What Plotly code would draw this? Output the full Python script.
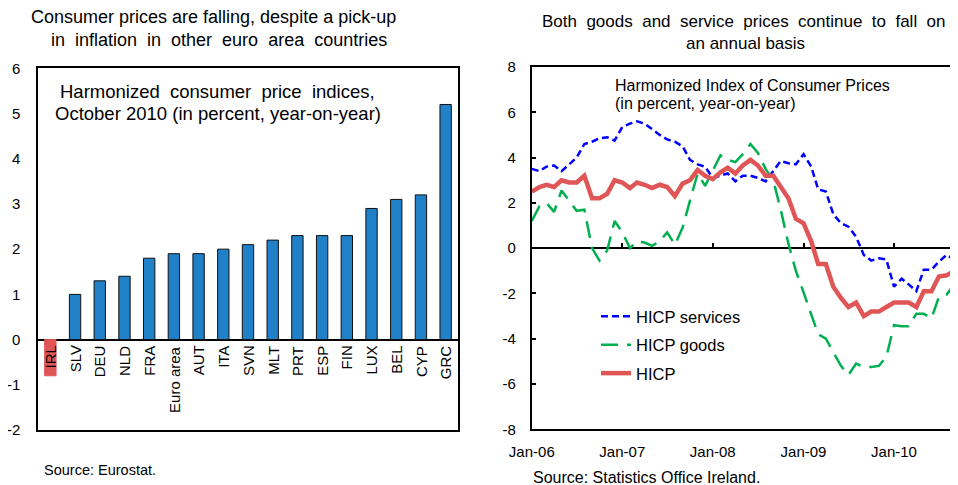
import plotly.graph_objects as go
import pandas as pd

# ---------------- Data ----------------
countries = ["IRL", "SLV", "DEU", "NLD", "FRA", "Euro area", "AUT", "ITA", "SVN",
             "MLT", "PRT", "ESP", "FIN", "LUX", "BEL", "CYP", "GRC"]
hicp_oct2010 = [-0.8, 1.0, 1.3, 1.4, 1.8, 1.9, 1.9, 2.0, 2.1,
                2.2, 2.3, 2.3, 2.3, 2.9, 3.1, 3.2, 5.2]
left_ticks = [-2, -1, 0, 1, 2, 3, 4, 5, 6]
left_tick_labels = ["-2", "-1", "0", "1", "2", "3", "4", "5", "6"]

months = pd.date_range("2006-01-01", "2010-10-01", freq="MS")
hicp_services = [3.5, 3.4, 3.6, 3.65, 3.4, 3.7, 4.0, 4.6, 4.7, 4.85, 4.9, 4.75,
                 5.35, 5.5, 5.6, 5.5, 5.25, 5.0, 4.8, 4.7, 4.5, 3.9, 3.7, 3.6,
                 3.1, 3.2, 3.3, 2.95, 3.2, 3.2, 3.1, 2.95, 3.4, 3.85, 3.75, 3.7,
                 4.15, 3.6, 2.6, 2.5, 1.5, 1.1, 0.95, 0.5, -0.3, -0.55, -0.45, -0.5,
                 -1.7, -1.35, -1.6, -1.9, -0.95, -0.95, -0.6, -0.3, -0.5, -0.6]
hicp_goods = [1.2, 1.85, 2.0, 1.6, 2.55, 2.1, 1.65, 1.7, 0.0, -0.55, -0.1, 1.2,
              0.7, 0.0, 0.3, 0.25, 0.1, 0.3, 0.7, 0.15, 0.9, 2.1, 3.3, 2.75,
              3.45, 4.1, 3.9, 3.8, 4.15, 4.6, 4.2, 3.5, 3.0, 1.7, 0.2, -1.0,
              -1.95, -2.9, -3.8, -4.0, -4.6, -5.2, -5.6, -5.1, -5.25, -5.25, -5.2, -4.8,
              -3.4, -3.45, -3.45, -2.9, -2.9, -3.1, -2.15, -2.05, -1.6, -1.2]
hicp_total = [2.5, 2.7, 2.8, 2.7, 3.0, 2.9, 2.9, 3.2, 2.2, 2.2, 2.4, 3.0,
              2.9, 2.65, 2.9, 2.8, 2.65, 2.8, 2.7, 2.3, 2.85, 3.0, 3.45, 3.2,
              3.05, 3.35, 3.55, 3.3, 3.65, 3.9, 3.65, 3.2, 3.2, 2.7, 2.2, 1.3,
              1.1, 0.3, -0.7, -0.7, -1.7, -2.2, -2.6, -2.4, -3.0, -2.8, -2.8, -2.6,
              -2.4, -2.4, -2.4, -2.6, -1.9, -1.9, -1.25, -1.2, -1.0, -0.8]
right_ticks = [-8, -6, -4, -2, 0, 2, 4, 6, 8]
right_tick_labels = ["-8", "-6", "-4", "-2", "0", "2", "4", "6", "8"]

FONT = "Liberation Sans, Arial, sans-serif"
OFF = 8                     # page body margin
W, H = 958 - OFF, 485 - OFF

def px_x(p):
    return (p - OFF) / W

def px_y(p):
    return 1 - (p - OFF) / H

fig = go.Figure()

# ---------------- Left chart: bars ----------------
bar_colors = ["#E05555" if v < 0 else "#2080C8" for v in hicp_oct2010]
line_colors = ["#E05555" if v < 0 else "#111111" for v in hicp_oct2010]
fig.add_trace(go.Bar(
    x=countries, y=hicp_oct2010, width=0.46,
    marker=dict(color=bar_colors, line=dict(color=line_colors, width=1)),
    xaxis="x", yaxis="y", showlegend=False, hoverinfo="x+y"))

for c in countries:
    fig.add_annotation(x=c, y=0, xref="x", yref="y", text=c, textangle=-90,
                       showarrow=False, xanchor="center", yanchor="top", yshift=-4,
                       font=dict(family=FONT, size=15, color="#000"))

# ---------------- Right chart: lines ----------------
fig.add_trace(go.Scatter(x=months, y=hicp_services, mode="lines", name="HICP services",
                         line=dict(color="#0000FF", width=2.5, dash="7px,4px"),
                         xaxis="x2", yaxis="y2", legendgroup="a"))
fig.add_trace(go.Scatter(x=months, y=hicp_goods, mode="lines", name="HICP goods",
                         line=dict(color="#00B050", width=2.5, dash="17px,9px"),
                         xaxis="x2", yaxis="y2", legendgroup="b"))
fig.add_trace(go.Scatter(x=months, y=hicp_total, mode="lines", name="HICP",
                         line=dict(color="#E05555", width=4.5),
                         xaxis="x2", yaxis="y2", legendgroup="c"))
# invisible trace to carry the tick-mark axis on the zero line
fig.add_trace(go.Scatter(x=[months[0]], y=[None], mode="lines", showlegend=False,
                         hoverinfo="skip", xaxis="x3", yaxis="y2"))

L_dom_x = [px_x(38), px_x(458)]
L_dom_y = [px_y(430), px_y(68.3)]
R_dom_x = [px_x(531.8), 1.0]
R_dom_y = [px_y(429.3), px_y(67)]
xr = ["2006-01-01", "2010-09-16"]
zero_pos = R_dom_y[0] + (R_dom_y[1] - R_dom_y[0]) * 0.5

axis_font = dict(family=FONT, size=15, color="#000")

fig.update_layout(
    width=W, height=H,
    margin=dict(l=0, r=0, t=0, b=0, autoexpand=False),
    paper_bgcolor="white", plot_bgcolor="white",
    font=dict(family=FONT, color="#000"),
    bargap=0.54,
    xaxis=dict(domain=L_dom_x, anchor="y", showticklabels=False, ticks="",
               showline=True, linecolor="#000", linewidth=1.5, mirror=True,
               showgrid=False, zeroline=False, range=[-0.5, 16.5], automargin=False),
    yaxis=dict(domain=L_dom_y, anchor="x", range=[-2, 6],
               tickmode="array", tickvals=left_ticks, ticktext=left_tick_labels,
               showline=True, linecolor="#000", linewidth=1.5, mirror=True,
               showgrid=False, zeroline=True, zerolinecolor="#000", zerolinewidth=2,
               ticks="", tickfont=axis_font, ticklabelstandoff=13, automargin=False),
    xaxis2=dict(domain=R_dom_x, anchor="y2", type="date", range=xr,
                tick0="2006-01-01", dtick="M12", tickformat="%b-%y",
                ticks="", tickfont=axis_font, ticklabelstandoff=8,
                showline=True, linecolor="#000", linewidth=2, mirror=True,
                showgrid=False, zeroline=False, automargin=False),
    xaxis3=dict(domain=R_dom_x, anchor="free", position=zero_pos, overlaying="x2",
                type="date", range=xr, tick0="2006-01-01", dtick="M12",
                ticks="inside", ticklen=5, tickwidth=2, tickcolor="#000",
                showticklabels=False, showline=False, showgrid=False, zeroline=False,
                automargin=False),
    yaxis2=dict(domain=R_dom_y, anchor="x2", range=[-8, 8],
                tickmode="array", tickvals=right_ticks, ticktext=right_tick_labels,
                showline=True, linecolor="#000", linewidth=2, mirror=False,
                showgrid=False, zeroline=True, zerolinecolor="#000", zerolinewidth=2,
                ticks="inside", ticklen=4, tickwidth=1.5, tickcolor="#000",
                tickfont=axis_font, ticklabelstandoff=11, automargin=False),
    legend=dict(x=px_x(596), y=px_y(299), xanchor="left", yanchor="top",
                bgcolor="rgba(0,0,0,0)", font=dict(family=FONT, size=16.5, color="#000"),
                tracegroupgap=4, itemwidth=30),
)

# ---------------- Text ----------------
def txt(x, y, s, size, anchor="center"):
    fig.add_annotation(x=px_x(x), y=px_y(y), xref="paper", yref="paper", text=s,
                       showarrow=False, xanchor=anchor, yanchor="middle",
                       font=dict(family=FONT, size=size, color="#000"))

txt(213, 17, "Consumer prices are falling, despite a pick-up", 18)
txt(219, 40, "in  inflation  in  other  euro  area  countries", 18)
txt(744, 22, "Both  goods  and  service  prices  continue  to  fall  on", 17)
txt(745, 44, "an annual basis", 17)
txt(217, 91, "Harmonized  consumer  price  indices,", 18.5)
txt(217.5, 113.5, "October 2010 (in percent, year-on-year)", 18.5)
txt(613, 85, "Harmonized Index of Consumer Prices", 16, "left")
txt(613, 103.3, "(in percent, year-on-year)", 16, "left")
txt(42, 470, "Source: Eurostat.", 14.5, "left")
txt(531, 477, "Source: Statistics Office Ireland.", 16, "left")

fig.write_html("out.html")
